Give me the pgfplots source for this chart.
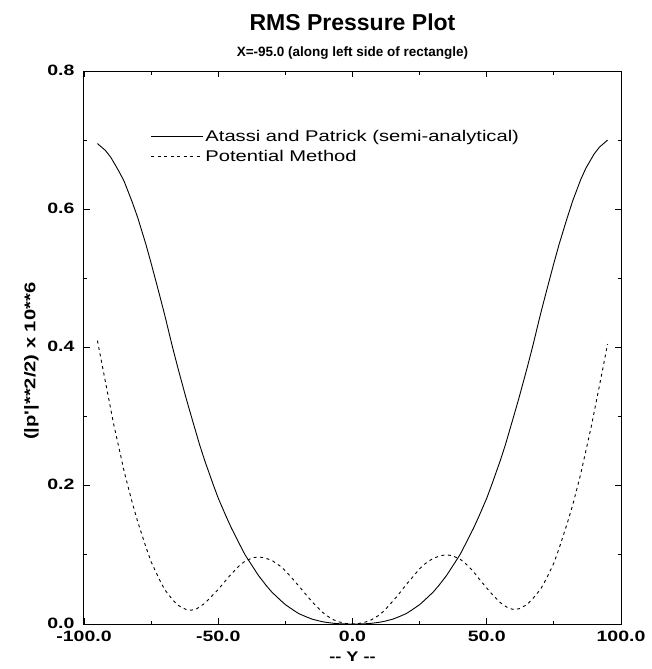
\documentclass[border=0pt]{standalone}
\usepackage{pgfplots}
\pgfplotsset{compat=1.18}
\usepackage{fontspec}
\setmainfont{Liberation Sans}
\newfontfamily\widefont[FakeStretch=1.3]{Liberation Sans}
\pgfplotstableread{
x y
-95 0.695
-92 0.685
-90 0.675
-87 0.655
-85 0.640
-82 0.610
-80 0.588
-77 0.550
-75 0.522
-72 0.478
-70 0.448
-67 0.400
-65 0.370
-62 0.327
-60 0.300
-57 0.260
-55 0.236
-52 0.203
-50 0.182
-47 0.155
-45 0.138
-42 0.115
-40 0.100
-37 0.082
-35 0.070
-32 0.055
-30 0.046
-27 0.035
-25 0.028
-22 0.020
-20 0.015
-17 0.010
-15 0.007
-12 0.004
-10 0.0025
-7 0.001
-5 0.0004
-2 0.0
0 0.0
2 0.0
5 0.0004
7 0.001
10 0.0025
12 0.004
15 0.007
17 0.010
20 0.015
22 0.020
25 0.028
27 0.035
30 0.046
32 0.055
35 0.070
37 0.082
40 0.100
42 0.115
45 0.138
47 0.155
50 0.182
52 0.203
55 0.236
57 0.260
60 0.300
62 0.327
65 0.370
67 0.400
70 0.448
72 0.478
75 0.522
77 0.550
80 0.588
82 0.612
85 0.643
87 0.660
90 0.680
92 0.690
95 0.700
}\atassi
\pgfplotstableread{
x y
-95 0.410
-93 0.370
-91 0.330
-89 0.290
-87 0.255
-85 0.220
-82 0.175
-80 0.148
-77 0.112
-75 0.090
-72 0.065
-70 0.050
-67 0.035
-65 0.027
-62 0.021
-60 0.020
-58 0.022
-55 0.030
-52 0.042
-50 0.050
-47 0.064
-45 0.073
-42 0.085
-40 0.091
-37 0.096
-35 0.097
-33 0.096
-30 0.092
-27 0.084
-25 0.077
-22 0.064
-20 0.055
-17 0.041
-15 0.032
-12 0.020
-10 0.013
-7 0.006
-5 0.003
-2 0.0005
0 0.0
2 0.0005
5 0.003
7 0.006
10 0.013
12 0.020
15 0.033
17 0.042
20 0.057
22 0.066
25 0.080
27 0.087
30 0.095
33 0.099
35 0.100
37 0.099
40 0.094
42 0.088
45 0.076
47 0.066
50 0.052
52 0.043
55 0.031
58 0.023
60 0.021
62 0.022
65 0.028
67 0.036
70 0.050
72 0.064
75 0.088
77 0.110
80 0.146
82 0.172
85 0.217
87 0.252
89 0.287
91 0.326
93 0.365
95 0.405
}\potential
\begin{document}
\begin{tikzpicture}
\path[use as bounding box] (-84pt,-45pt) rectangle (567pt,624pt);
\begin{axis}[
  name=ax,
  at={(0pt,0pt)}, anchor=south west,
  width=537pt, height=553pt, scale only axis,
  xmin=-100, xmax=100, ymin=0, ymax=0.8,
  xtick={-100,-50,0,50,100},
  ytick={0,0.2,0.4,0.6,0.8},
  minor x tick num=1,
  minor y tick num=1,
  tick align=inside,
  major tick length=6pt,
  minor tick length=3.5pt,
  axis line style={line width=1pt},
  tick style={line width=0.8pt, black},
  /pgf/number format/assume math mode=true,
  xticklabel style={/pgf/number format/.cd, fixed, precision=1, zerofill, /tikz/.cd, font=\widefont\fontsize{15}{16}\selectfont\bfseries, yshift=-3.5pt},
  yticklabel style={/pgf/number format/.cd, fixed, precision=1, zerofill, /tikz/.cd, font=\widefont\fontsize{15}{16}\selectfont\bfseries, xshift=-6pt, yshift=1pt},
  scaled ticks=false,
  xlabel={-{}- Y -{}-},
  xlabel style={font=\widefont\fontsize{14}{15}\selectfont\bfseries, at={(0.5,-0.059)}, anchor=center},
  ylabel={(|p'|**2/2) x 10**6},
  ylabel style={font=\widefont\fontsize{15.5}{16}\selectfont\bfseries, at={(-0.098,0.475)}, anchor=center, rotate=0},
  legend style={draw=none, fill=none, at={(0.118,0.9)}, anchor=north west,
    font=\widefont\fontsize{15.5}{17}\selectfont, row sep=3pt},
  legend cell align=left,
  legend image code/.code={\draw[#1] (0pt,0pt) -- (52pt,0pt);},
]
\addplot[black, line width=0.9pt] table[x=x,y=y] {\atassi};
\addlegendentry{Atassi and Patrick (semi-analytical)}
\addplot[black, line width=0.9pt, dash pattern=on 3pt off 3.5pt] table[x=x,y=y] {\potential};
\addlegendentry{Potential Method}
\end{axis}
\node[font=\fontsize{23}{25}\selectfont\bfseries] at ([yshift=49pt]ax.north) {RMS Pressure Plot};
\node[font=\fontsize{13.5}{15}\selectfont\bfseries] at ([yshift=18pt]ax.north) {X=-95.0 (along left side of rectangle)};
\end{tikzpicture}
\end{document}
